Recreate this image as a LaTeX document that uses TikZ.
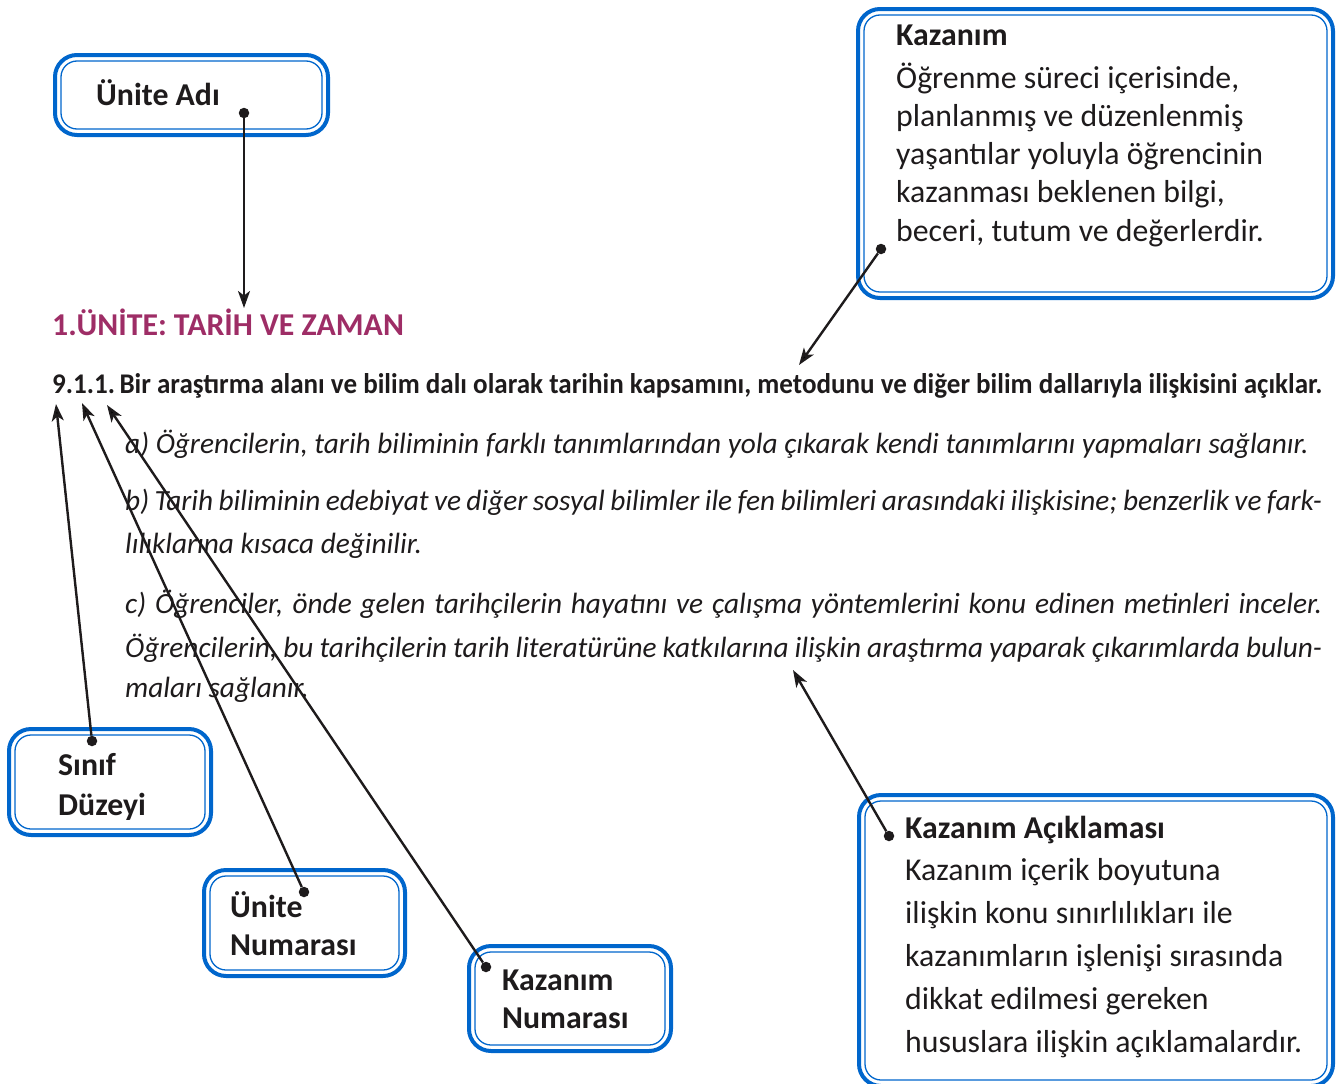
\documentclass[tikz,border=0pt]{standalone}
\usepackage{fontspec}
\setmainfont{Carlito}
\usepackage{graphicx}
\usetikzlibrary{arrows.meta}
\definecolor{boxblue}{RGB}{0,102,204}
\definecolor{unitred}{RGB}{158,45,102}
\definecolor{ink}{RGB}{30,27,28}

\begin{document}
\begin{tikzpicture}[x=1pt,y=-1pt,>={Stealth[length=17pt,width=12pt,inset=4.5pt]}]
	\tikzstyle{frame}=[draw=boxblue, line width=4pt, rounded corners=22pt, anchor=north west, inner sep=0pt, outer sep=0pt]
	\tikzstyle{innerline}=[draw=boxblue, line width=1.3pt, rounded corners=16pt]
	\tikzstyle{dot}=[circle, fill=ink, inner sep=0pt, minimum size=10.5pt]
	\tikzstyle{pointer}=[->, draw=ink, line width=2.4pt]
	\tikzstyle{lbl}=[anchor=base west, inner sep=0pt, text=ink, font=\fontsize{31.8}{36}\selectfont\bfseries]
	\tikzstyle{body}=[anchor=base west, inner sep=0pt, text=ink, font=\fontsize{31.8}{36}\selectfont]
	\tikzstyle{item}=[anchor=base west, inner sep=0pt, text=ink, font=\fontsize{29.3}{34}\selectfont\itshape]
	\useasboundingbox (0,0) rectangle (1344,1084);

	% frames
	\node[frame, minimum width=273pt, minimum height=80pt]  (adibox)   at (55,55)   {};
	\node[frame, minimum width=475pt, minimum height=289pt] (kazbox)   at (858,9)   {};
	\node[frame, minimum width=202pt, minimum height=106pt] (sinifbox) at (9,729)   {};
	\node[frame, minimum width=201pt, minimum height=106pt] (unobox)   at (204,870) {};
	\node[frame, minimum width=202pt, minimum height=105pt] (knobox)   at (469,946) {};
	\node[frame, minimum width=474pt, minimum height=291pt] (acikbox)  at (859,795) {};
	\foreach \b in {adibox,kazbox,sinifbox,unobox,knobox,acikbox}
		\draw[innerline] ([shift={(6,6)}]\b.north west) rectangle ([shift={(-6,-6)}]\b.south east);

	% box texts
	\node[lbl] (aditext) at (96,105) {Ünite Adı};
	\node[lbl] (kaztitle) at (896,45) {Kazanım};
	\foreach \ln [count=\i from 0] in {{Öğrenme süreci içerisinde,},{planlanmış ve düzenlenmiş},{yaşantılar yoluyla öğrencinin},{kazanması beklenen bilgi,},{beceri, tutum ve değerlerdir.}}
		\node[body] (kazline\i) at (896,{88+38.3*\i}) {\ln};
	\node[lbl] (sinif1) at (58,775) {Sınıf};
	\node[lbl] (sinif2) at (58,815) {Düzeyi};
	\node[lbl] (uno1) at (230,917) {Ünite};
	\node[lbl] (uno2) at (230,955) {Numarası};
	\node[lbl] (kno1) at (502,990) {Kazanım};
	\node[lbl] (kno2) at (502,1028) {Numarası};
	\node[lbl] (aciktitle) at (905,838) {Kazanım Açıklaması};
	\foreach \ln [count=\i from 0] in {{Kazanım içerik boyutuna},{ilişkin konu sınırlılıkları ile},{kazanımların işlenişi sırasında},{dikkat edilmesi gereken},{hususlara ilişkin açıklamalardır.}}
		\node[body] (acikline\i) at (905,{880+43*\i}) {\ln};

	% page text
	\node[anchor=base west, inner sep=0pt, text=unitred, font=\fontsize{31.8}{36}\selectfont\bfseries] (unit) at (52,335) {1.ÜNİTE: TARİH VE ZAMAN};
	\node[anchor=base west, inner sep=0pt, text=ink, font=\fontsize{28.5}{32}\selectfont\bfseries] (goal) at (52,393)
		{\resizebox{1270pt}{\height}{9.1.1.\,Bir araştırma alanı ve bilim dalı olarak tarihin kapsamını, metodunu ve diğer bilim dallarıyla ilişkisini açıklar.}};
	\node[item] (itema) at (125,453) {a) Öğrencilerin, tarih biliminin farklı tanımlarından yola çıkarak kendi tanımlarını yapmaları sağlanır.};
	\node[item] (itemb1) at (125,510) {\makebox[1197pt][s]{b) Tarih biliminin edebiyat ve diğer sosyal bilimler ile fen bilimleri arasındaki ilişkisine; benzerlik ve fark-}};
	\node[item] (itemb2) at (125,553) {lılıklarına kısaca değinilir.};
	\node[item] (itemc1) at (125,613) {\makebox[1197pt][s]{c) Öğrenciler, önde gelen tarihçilerin hayatını ve çalışma yöntemlerini konu edinen metinleri inceler.}};
	\node[item] (itemc2) at (125,657) {\makebox[1197pt][s]{Öğrencilerin, bu tarihçilerin tarih literatürüne katkılarına ilişkin araştırma yaparak çıkarımlarda bulun-}};
	\node[item] (itemc3) at (125,697) {maları sağlanır.};

	% dots and pointers
	\node[dot] (adidot)   at (244,113) {};
	\node[dot] (kazdot)   at (881,249) {};
	\node[dot] (sinifdot) at (92,741)  {};
	\node[dot] (unodot)   at (304,892) {};
	\node[dot] (knodot)   at (486,967) {};
	\node[dot] (acikdot)  at (889,836) {};
	\coordinate (adihead)   at (244,308);
	\coordinate (kazhead)   at (799,365);
	\coordinate (sinifhead) at (56,404);
	\coordinate (unohead)   at (82,403);
	\coordinate (knohead)   at (107,405);
	\coordinate (acikhead)  at (793,670);
	\path[pointer]
		(adidot) edge (adihead)
		(kazdot) edge (kazhead)
		(sinifdot) edge (sinifhead)
		(unodot) edge (unohead)
		(knodot) edge (knohead)
		(acikdot) edge (acikhead);
\end{tikzpicture}
\end{document}
